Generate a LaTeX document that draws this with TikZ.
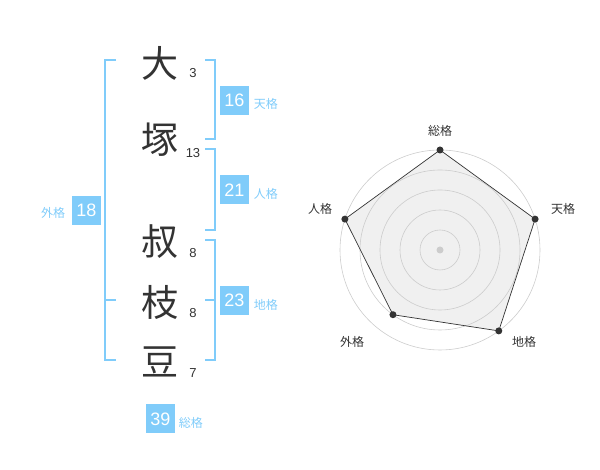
\documentclass[tikz,border=0pt]{standalone}
\usepackage{fontspec}
\setmainfont{Liberation Sans}
\newfontfamily\jp{Noto Sans CJK JP}
\usepackage{xcolor}
\usetikzlibrary{positioning,calc}
\definecolor{kakublue}{RGB}{128,204,250}
\definecolor{inkgray}{RGB}{51,51,51}
\definecolor{ringgray}{RGB}{204,204,204}
\definecolor{webgray}{RGB}{240,240,240}
\tikzset{
  kanji/.style={inner sep=0pt,text=inkgray,font=\jp\fontsize{37}{37}\selectfont},
  strokes/.style={inner sep=0pt,text=inkgray,font=\fontsize{13}{13}\selectfont},
  scorebox/.style={fill=kakublue,text=white,minimum size=29pt,inner sep=0pt,font=\fontsize{18}{18}\selectfont},
  kaku/.style={inner sep=0.75pt,text=kakublue,font=\jp\fontsize{12}{12}\selectfont},
  bracket/.style={draw=kakublue,line width=2pt},
  ring/.style={draw=ringgray,line width=0.6pt},
  vertex/.style={circle,fill=inkgray,inner sep=0pt,minimum size=7pt},
  axislabel/.style={inner sep=0.75pt,text=inkgray,font=\jp\fontsize{12}{12}\selectfont}
}

\begin{document}
\begin{tikzpicture}[x=1pt,y=1pt]
\useasboundingbox (0,0) rectangle (600,470);
% name
\node[kanji] (dai) at (160,407) {大};
\node[kanji] (tsuka) at (160,330) {塚};
\node[kanji] (shuku) at (160,228) {叔};
\node[kanji] (eda) at (160,168) {枝};
\node[kanji] (mame) at (160,108) {豆};
\node[strokes] (s1) at (193,397) {3};
\node[strokes] (s2) at (193,317) {13};
\node[strokes] (s3) at (193,217) {8};
\node[strokes] (s4) at (193,157) {8};
\node[strokes] (s5) at (193,97) {7};
% brackets
\draw[bracket] (116,410) -- (105,410) -- (105,110) -- (116,110);
\draw[bracket] (105,170) -- (116,170);
\draw[bracket] (205,410) -- (214.5,410) -- (214.5,330.5) -- (205,330.5);
\draw[bracket] (205,320.5) -- (214.5,320.5) -- (214.5,240) -- (205,240);
\draw[bracket] (205,230) -- (214.5,230) -- (214.5,110) -- (205,110);
\draw[bracket] (205,170) -- (214.5,170);
% scores
\node[scorebox] (ten) at (234.5,369.5) {16};
\node[kaku,anchor=west] (tenlbl) at (253,366) {天格};
\node[scorebox] (jin) at (234.5,280) {21};
\node[kaku,anchor=west] (jinlbl) at (253,276) {人格};
\node[scorebox] (chi) at (234.5,169.7) {23};
\node[kaku,anchor=west] (chilbl) at (253,165) {地格};
\node[scorebox] (gai) at (86.5,259.5) {18};
\node[kaku,anchor=east] (gailbl) at (66,257) {外格};
\node[scorebox] (so) at (160.5,51) {39};
\node[kaku,anchor=west] (solbl) at (178,47) {総格};
% radar
\coordinate (c) at (440,220);
\coordinate (p1) at ($(c)+(90:100)$);
\coordinate (p2) at ($(c)+(18:100)$);
\coordinate (p3) at ($(c)+(-54:100)$);
\coordinate (p4) at ($(c)+(-126:80)$);
\coordinate (p5) at ($(c)+(162:100)$);
\fill[webgray] (p1) -- (p2) -- (p3) -- (p4) -- (p5) -- cycle;
\foreach \r in {20,40,60,80,100}
  \draw[ring] (c) circle (\r);
\node[circle,fill=ringgray,inner sep=0pt,minimum size=7pt] (mid) at (c) {};
\draw[inkgray,line width=0.7pt] (p1) -- (p2) -- (p3) -- (p4) -- (p5) -- cycle;
\foreach \p in {p1,p2,p3,p4,p5}
  \node[vertex] (d\p) at (\p) {};
\node[axislabel] (sokaku) at (440,339) {総格};
\node[axislabel] (tenkaku) at (563,261) {天格};
\node[axislabel] (chikaku) at (524,128) {地格};
\node[axislabel] (gaikaku) at (352,128) {外格};
\node[axislabel] (jinkaku) at (320,261) {人格};
\end{tikzpicture}
\end{document}
